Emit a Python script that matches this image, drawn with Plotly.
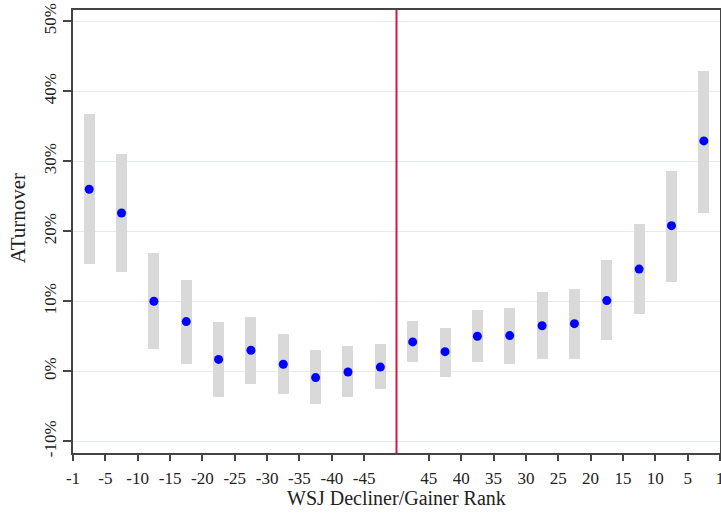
import plotly.graph_objects as go

# Bin labels (left: decliner ranks, right: gainer ranks)
x_tick_labels = ["-1", "-5", "-10", "-15", "-20", "-25", "-30", "-35", "-40", "-45",
                 "", "45", "40", "35", "30", "25", "20", "15", "10", "5", "1"]
bins = ["D1-5", "D6-10", "D11-15", "D16-20", "D21-25", "D26-30", "D31-35", "D36-40", "D41-45", "D46-50",
        "G50-46", "G45-41", "G40-36", "G35-31", "G30-26", "G25-21", "G20-16", "G15-11", "G10-6", "G5-1"]

# Point estimates (%), and confidence interval bounds (%)
estimate = [26.0, 22.6, 10.0, 7.1, 1.7, 3.0, 1.0, -0.9, -0.1, 0.6,
            4.2, 2.8, 5.0, 5.1, 6.5, 6.8, 10.1, 14.6, 20.8, 32.9]
ci_high = [36.8, 31.0, 16.9, 13.1, 7.0, 7.8, 5.3, 3.1, 3.6, 3.9,
           7.2, 6.2, 8.7, 9.0, 11.3, 11.8, 15.9, 21.0, 28.6, 42.9]
ci_low = [15.3, 14.2, 3.2, 1.0, -3.6, -1.8, -3.3, -4.7, -3.7, -2.6,
          1.3, -0.8, 1.3, 1.1, 1.7, 1.8, 4.5, 8.2, 12.8, 22.6]

y_ticks = [-10, 0, 10, 20, 30, 40, 50]
y_tick_labels = ["-10%", "0%", "10%", "20%", "30%", "40%", "50%"]
divider = 10  # boundary between decliners and gainers on the positional axis

pos = [i + 0.5 for i in range(len(bins))]
tick_pos = list(range(len(x_tick_labels)))
tv = [p for p, t in zip(tick_pos, x_tick_labels) if t != ""]
tt = [t for t in x_tick_labels if t != ""]

font = "Liberation Serif"
txt = "#222"

fig = go.Figure()
fig.add_trace(go.Bar(
    x=pos, base=ci_low, y=[h - l for h, l in zip(ci_high, ci_low)],
    width=0.34, marker=dict(color="#d9d9d9", line=dict(width=0)),
    hoverinfo="skip", showlegend=False))
fig.add_trace(go.Scatter(
    x=pos, y=estimate, mode="markers",
    marker=dict(color="#0000ff", size=9), showlegend=False, text=bins))

fig.add_shape(type="line", x0=divider, x1=divider, y0=0, y1=1, yref="paper",
              line=dict(color="#dc143c", width=2), layer="above")

fig.add_annotation(text="WSJ Decliner/Gainer Rank", xref="paper", yref="paper",
                   x=0.5, y=0, yshift=-45, xanchor="center", yanchor="middle",
                   showarrow=False, font=dict(family=font, size=20, color=txt))
fig.add_annotation(text="ATurnover", xref="paper", yref="paper",
                   x=0, y=0.53, xshift=-55, textangle=-90, xanchor="center", yanchor="middle",
                   showarrow=False, font=dict(family=font, size=21, color=txt))

fig.update_layout(
    width=721, height=514,
    margin=dict(l=73, r=1, t=10, b=61, autoexpand=False),
    paper_bgcolor="white", plot_bgcolor="white",
    font=dict(family=font, size=17, color=txt),
    bargap=0,
    xaxis=dict(
        range=[0, 20], tickmode="array", tickvals=tv, ticktext=tt,
        ticks="outside", ticklen=6, tickwidth=1.5, tickcolor="#444",
        showline=True, linecolor="#444", linewidth=2, mirror=True,
        showgrid=False, zeroline=False, automargin=False,
        ticklabeloverflow="allow", ticklabelstandoff=3,
        tickfont=dict(family=font, size=17, color=txt),
    ),
    yaxis=dict(
        range=[-11.67, 51.6], tickmode="array", tickvals=y_ticks, ticktext=y_tick_labels,
        tickangle=-90, automargin=False, ticklabeloverflow="allow",
        ticks="outside", ticklen=8, tickwidth=1.5, tickcolor="#444",
        showline=True, linecolor="#444", linewidth=2, mirror=True,
        showgrid=True, gridcolor="#e4ecee", gridwidth=1, zeroline=False,
        tickfont=dict(family=font, size=17, color=txt),
    ),
)

fig.write_html("out.html", config={"displayModeBar": False},
               post_script="document.body.style.margin='0';document.body.style.overflow='hidden';")
